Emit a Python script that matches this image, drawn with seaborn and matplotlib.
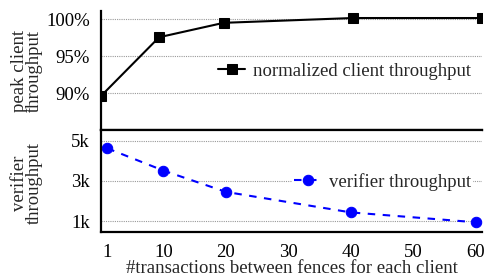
import matplotlib
matplotlib.use("Agg")
import matplotlib.pyplot as plt
import seaborn as sns
import pandas as pd

# data
txn_per_fence = [1, 10, 20, 40, 60]
client_tput_pct = [89.6, 97.55, 99.5, 100.15, 100.15]
verifier_tput_k = [4.62, 3.51, 2.45, 1.43, 0.94]
x_ticks = [1, 10, 20, 30, 40, 50, 60]
top_yticks = [90, 95, 100]
top_yticklabels = ["90%", "95%", "100%"]
bot_yticks = [1, 3, 5]
bot_yticklabels = ["1k", "3k", "5k"]

FS = 13.5

sns.set_style("white")
plt.rcParams["font.family"] = ["Liberation Serif", "DejaVu Serif"]
plt.rcParams["font.size"] = FS

W, H = 487, 278
fig = plt.figure(figsize=(W / 100, H / 100), dpi=100)

left = 101 / W
width = (482 - 101) / W
ax1 = fig.add_axes([left, (H - 130) / H, width, 119 / H])
ax2 = fig.add_axes([left, (H - 231.7) / H, width, 101.7 / H])

df_top = pd.DataFrame({"x": txn_per_fence, "y": client_tput_pct})
df_bot = pd.DataFrame({"x": txn_per_fence, "y": verifier_tput_k})

sns.lineplot(data=df_top, x="x", y="y", ax=ax1, color="black", marker="s",
             markersize=6.5, markeredgecolor="black", linewidth=1.5,
             label="normalized client throughput")
sns.lineplot(data=df_bot, x="x", y="y", ax=ax2, color="#0000ff", marker="o",
             markersize=7.5, markeredgecolor="#0000ff", linewidth=1.5,
             label="verifier throughput")
for ln in ax2.lines:
    ln.set_dashes((3.6, 3.6))

# top axes
ax1.set_xlim(1, 60)
ax1.set_ylim(85, 101.1)
ax1.set_yticks(top_yticks)
ax1.set_yticklabels(top_yticklabels)
ax1.set_xticks(x_ticks)
ax1.set_xticklabels([])
ax1.set_xlabel("")
ax1.set_ylabel("peak client\nthroughput", linespacing=0.85)
ax1.yaxis.set_label_coords((43 - 101) / 381, 0.5)
for s in ["top", "right"]:
    ax1.spines[s].set_visible(False)
ax1.yaxis.grid(True, linestyle=(0, (1, 1)), color="#999999", linewidth=0.8)
ax1.xaxis.grid(False)

# bottom axes
ax2.set_xlim(0, 61)
ax2.set_ylim(0.47, 5.53)
ax2.set_yticks(bot_yticks)
ax2.set_yticklabels(bot_yticklabels)
ax2.set_xticks(x_ticks)
ax2.set_xticklabels([str(v) for v in x_ticks])
ax2.set_xlabel("#transactions between fences for each client", labelpad=-1)
ax2.set_ylabel("verifier\nthroughput", linespacing=0.85)
ax2.yaxis.set_label_coords((43 - 101) / 381, 0.48)
ax2.spines["right"].set_visible(False)
ax2.yaxis.grid(True, linestyle=(0, (1, 1)), color="#999999", linewidth=0.8)
ax2.xaxis.grid(False)

for ax in (ax1, ax2):
    for s in ax.spines.values():
        s.set_linewidth(1.6)
        s.set_color("black")
    ax.tick_params(direction="in", length=4, width=1, colors="black",
                   labelsize=FS)
    ax.tick_params(axis="y", pad=8)
    ax.tick_params(axis="x", pad=9)
    ax.set_axisbelow(True)

for ax, yc in ((ax1, 0.496), (ax2, 0.492)):
    leg = ax.legend(loc="center right", bbox_to_anchor=(0.976, yc),
                    frameon=True, fancybox=False, edgecolor="none",
                    facecolor="white", framealpha=1, borderpad=0.1,
                    borderaxespad=0, handlelength=1.45, handletextpad=0.4,
                    fontsize=FS)

fig.savefig("out.png", dpi=100)
